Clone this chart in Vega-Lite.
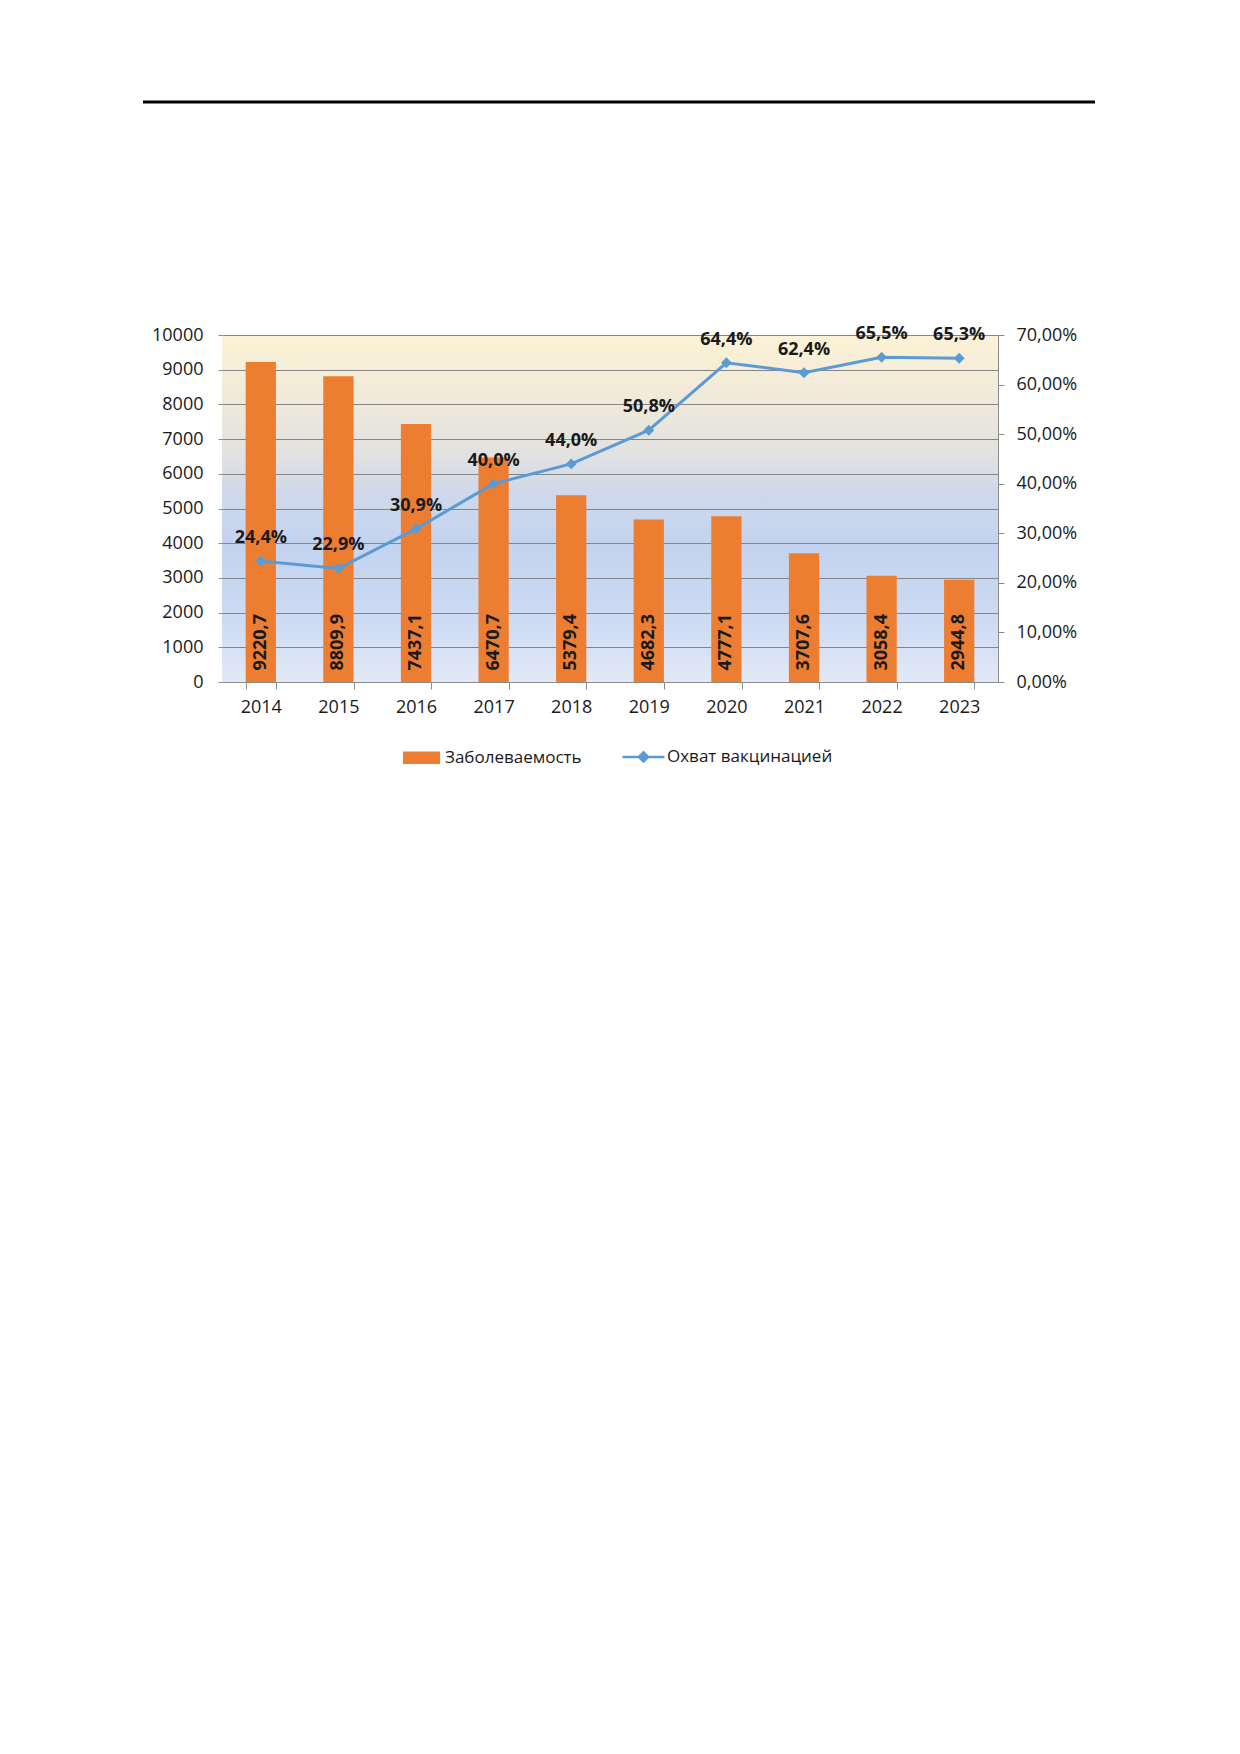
{
  "$schema": "https://vega.github.io/schema/vega-lite/v6.json",
  "padding": {"left": 141, "top": 100, "right": 0, "bottom": 0},
  "config": {
    "font": "Open Sans",
    "view": {"stroke": null},
    "axis": {"grid": false, "labelColor": "#1a1a1a", "labelFontSize": 18, "labelFont": "Open Sans"},
    "locale": {"number": {"decimal": ",", "thousands": " ", "grouping": [3], "currency": ["", ""]}}
  },
  "columns": 1,
  "spacing": 221,
  "resolve": {"scale": {"color": "independent"}, "legend": {"color": "independent"}},
  "concat": [
    {
      "width": 776,
      "height": 2,
      "data": {"values": [{"start": -79, "end": 873}]},
      "mark": {"type": "rule", "color": "#000000", "strokeWidth": 3},
      "encoding": {
        "x": {"field": "start", "type": "quantitative", "scale": {"domain": [0, 776], "nice": false, "zero": false}, "axis": null},
        "x2": {"field": "end"},
        "y": {"datum": 0.5, "type": "quantitative", "scale": {"domain": [0, 1]}, "axis": null}
      }
    },
    {
      "width": 776,
      "height": 347,
      "view": {
        "stroke": null,
        "fill": {
          "gradient": "linear",
          "x1": 0, "y1": 0, "x2": 0, "y2": 1,
          "stops": [
            {"offset": 0, "color": "#fcf2d6"},
            {"offset": 0.2, "color": "#efe9da"},
            {"offset": 0.35, "color": "#e0e1e1"},
            {"offset": 0.45, "color": "#cfd9ea"},
            {"offset": 0.6, "color": "#c3d3ef"},
            {"offset": 0.8, "color": "#cbd9f2"},
            {"offset": 1, "color": "#e1e9f7"}
          ]
        }
      },
      "data": {
        "values": [
          {"year": "2014", "rate": 9220.7, "pct": 0.244},
          {"year": "2015", "rate": 8809.9, "pct": 0.229},
          {"year": "2016", "rate": 7437.1, "pct": 0.309},
          {"year": "2017", "rate": 6470.7, "pct": 0.400},
          {"year": "2018", "rate": 5379.4, "pct": 0.440},
          {"year": "2019", "rate": 4682.3, "pct": 0.508},
          {"year": "2020", "rate": 4777.1, "pct": 0.644},
          {"year": "2021", "rate": 3707.6, "pct": 0.624},
          {"year": "2022", "rate": 3058.4, "pct": 0.655},
          {"year": "2023", "rate": 2944.8, "pct": 0.653}
        ]
      },
      "encoding": {
        "x": {
          "field": "year",
          "type": "ordinal",
          "scale": {"paddingInner": 0.61, "paddingOuter": 0.305},
          "axis": {
            "title": null,
            "labelAngle": 0,
            "tickBand": "extent",
            "tickSize": 7,
            "tickColor": "#8c8c8c",
            "domainColor": "#8c8c8c",
            "labelPadding": 9
          }
        }
      },
      "layer": [
        {
          "layer": [
            {
              "mark": {"type": "bar"},
              "encoding": {
                "y": {
                  "field": "rate",
                  "type": "quantitative",
                  "scale": {"domain": [0, 10000], "nice": false},
                  "axis": {
                    "orient": "left",
                    "title": null,
                    "values": [0, 1000, 2000, 3000, 4000, 5000, 6000, 7000, 8000, 9000, 10000],
                    "format": "d",
                    "grid": true,
                    "gridColor": "#858585",
                    "gridWidth": 1.2,
                    "domain": false,
                    "tickSize": 4,
                    "tickColor": "#8c8c8c",
                    "labelPadding": 15,
                    "labelFlush": false,
                    "labelOverlap": false
                  }
                },
                "color": {
                  "datum": "Заболеваемость",
                  "type": "nominal",
                  "scale": {
                    "domain": ["Заболеваемость", "Охват вакцинацией"],
                    "range": ["#ed7d31", "#5b9bd5"]
                  },
                  "legend": {
                    "title": null,
                    "orient": "none",
                    "legendX": 191,
                    "legendY": 413,
                    "direction": "horizontal",
                    "symbolSize": 1600,
                    "labelFontSize": 17,
                    "labelColor": "#1a1a1a",
                    "labelLimit": 400,
                    "labelOffset": 15,
                    "columnPadding": 35,
                    "encode": {
                      "symbols": {
                        "update": {
                          "shape": {"signal": "datum.value == 'Заболеваемость' ? 'M-0.925,-0.31H0.925V0.31H-0.925Z' : 'M-1.05,0H1.05M0,-0.23L0.23,0L0,0.23L-0.23,0Z'"},
                          "fill": {"signal": "datum.value == 'Заболеваемость' ? '#ed7d31' : '#5b9bd5'"},
                          "stroke": {"signal": "datum.value == 'Заболеваемость' ? '#ed7d31' : '#5b9bd5'"},
                          "strokeWidth": {"signal": "datum.value == 'Заболеваемость' ? 0 : 2.5"},
                          "opacity": {"value": 1}
                        }
                      }
                    }
                  }
                }
              }
            },
            {
              "mark": {
                "type": "text",
                "angle": 270,
                "align": "left",
                "baseline": "middle",
                "fontWeight": "bold",
                "fontSize": 18,
                "color": "#1a1a1a"
              },
              "encoding": {
                "y": {
                  "datum": 330,
                  "type": "quantitative",
                  "axis": {
                    "orient": "left",
                    "title": null,
                    "values": [0, 1000, 2000, 3000, 4000, 5000, 6000, 7000, 8000, 9000, 10000],
                    "format": "d",
                    "grid": true,
                    "gridColor": "#858585",
                    "gridWidth": 1.2,
                    "domain": false,
                    "tickSize": 4,
                    "tickColor": "#8c8c8c",
                    "labelPadding": 15,
                    "labelFlush": false,
                    "labelOverlap": false
                  }
                },
                "text": {"field": "rate", "type": "quantitative", "format": ".1f"}
              }
            }
          ]
        },
        {
          "layer": [
            {
              "mark": {
                "type": "line",
                "strokeWidth": 3,
                "point": {"shape": "diamond", "filled": true, "size": 120}
              },
              "encoding": {
                "y": {
                  "field": "pct",
                  "type": "quantitative",
                  "scale": {"domain": [0, 0.7], "nice": false},
                  "axis": {
                    "orient": "right",
                    "title": null,
                    "values": [0, 0.1, 0.2, 0.3, 0.4, 0.5, 0.6, 0.7],
                    "format": ".2%",
                    "grid": false,
                    "domain": true,
                    "domainColor": "#8c8c8c",
                    "tickSize": 6,
                    "tickColor": "#8c8c8c",
                    "labelPadding": 12,
                    "labelFlush": false,
                    "labelOverlap": false
                  }
                },
                "color": {"datum": "Охват вакцинацией", "type": "nominal"}
              }
            },
            {
              "mark": {
                "type": "text",
                "fontWeight": "bold",
                "fontSize": 18,
                "baseline": "middle",
                "dy": -23,
                "color": "#1a1a1a"
              },
              "encoding": {
                "y": {"field": "pct", "type": "quantitative"},
                "text": {"field": "pct", "type": "quantitative", "format": ".1%"}
              }
            }
          ]
        }
      ],
      "resolve": {"scale": {"y": "independent"}}
    }
  ]
}
